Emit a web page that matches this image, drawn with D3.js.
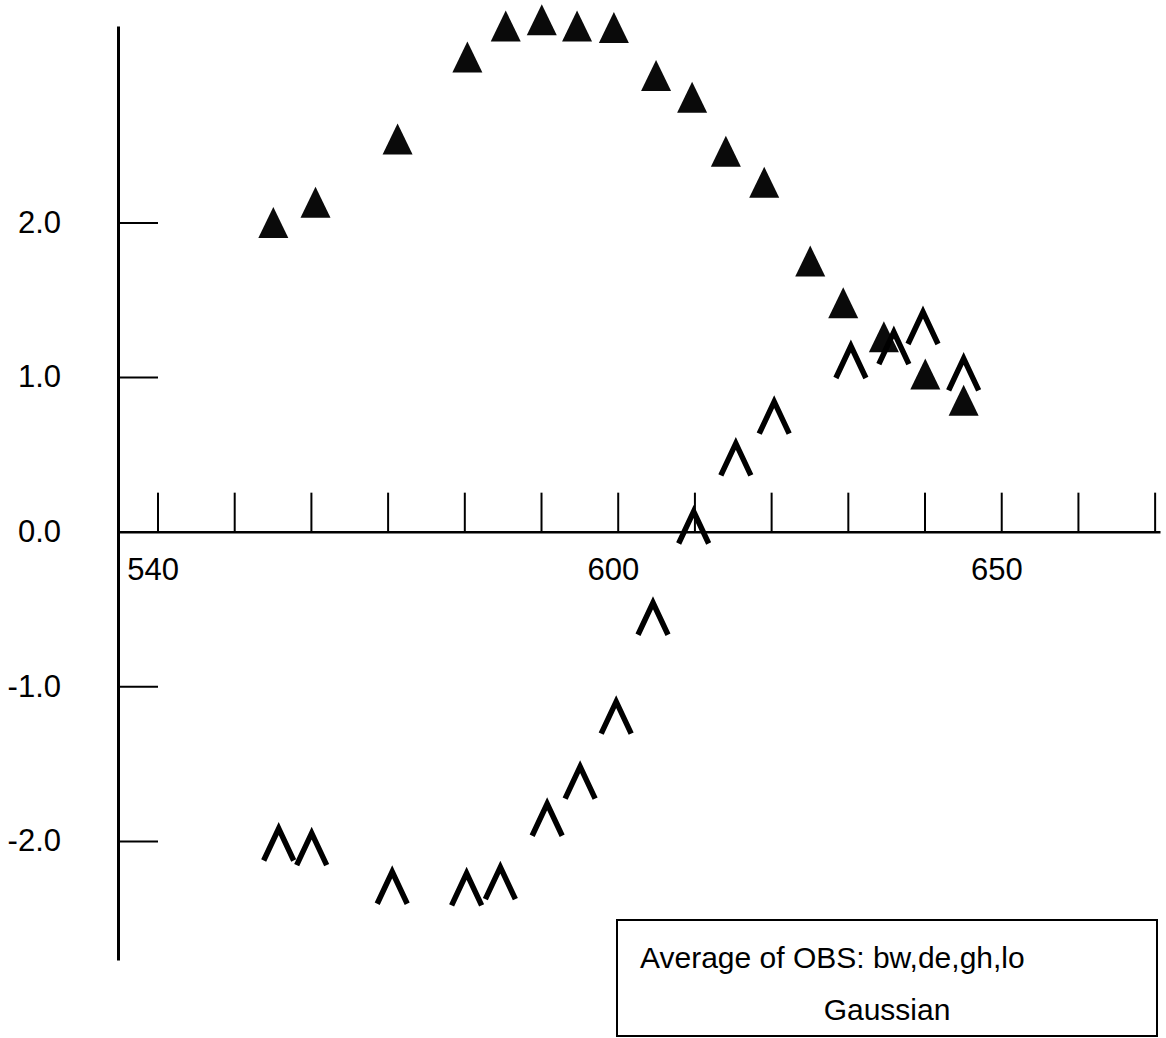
<!DOCTYPE html>
<html lang="en">
<head>
  <meta charset="utf-8">
  <title>Average of OBS - Gaussian</title>
  <style>
    body { margin: 0; background: #fff; }
    svg { display: block; font-family: "Liberation Sans", Arial, Helvetica, sans-serif; }
  </style>
</head>
<body>
  <script src="https://cdnjs.cloudflare.com/ajax/libs/d3/7.8.5/d3.min.js"></script>
  <script type="text/javascript">
  // filled triangles
  const triX = [555.1, 560.6, 571.3, 580.4, 585.4, 590.1, 594.7, 599.5, 605.0, 609.7, 614.1, 619.1, 625.1, 629.4, 634.7, 640.1, 645.1];
  const triY = [2.00, 2.13, 2.54, 3.07, 3.27, 3.31, 3.27, 3.26, 2.95, 2.81, 2.46, 2.26, 1.75, 1.48, 1.26, 1.02, 0.85];

  // open chevrons
  const chevX = [555.8, 560.1, 570.6, 580.3, 584.7, 590.8, 595.1, 599.8, 604.6, 609.9, 615.4, 620.4, 630.4, 636.0, 639.8, 645.1];
  const chevY = [-2.01, -2.04, -2.29, -2.30, -2.26, -1.85, -1.61, -1.19, -0.55, 0.04, 0.48, 0.75, 1.11, 1.20, 1.33, 1.03];

  const xTicks = [540, 550, 560, 570, 580, 590, 600, 610, 620, 630, 640, 650, 660, 670];
  const xTickLabels = [540, 600, 650];
  const yTicks = [2.0, 1.0, -1.0, -2.0];
  const yTickLabels = ["2.0", "1.0", "-1.0", "-2.0"];
  const legendLines = ["Average of OBS: bw,de,gh,lo", "Gaussian"];

  const width = 1166;
  const height = 1038;

  const svg = d3.select("body")
  .append("svg")
  .attr("width", width)
  .attr("height", height);

  const xScale = d3.scaleLinear()
  .domain([534.85, 670.7])
  .range([118, 1160]);

  const yScale = d3.scaleLinear()
  .domain([3.27, -2.77])
  .range([26, 960]);

  // x axis, ticks pointing up
  const xAxis = d3.axisBottom(xScale)
  .tickValues(xTicks)
  .tickSizeInner(-39)
  .tickSizeOuter(0)
  .tickPadding(26)
  .tickFormat((d) => xTickLabels.includes(d) ? String(d) : "");

  const gx = svg.append("g")
  .attr("transform", `translate(0, ${yScale(0)})`)
  .call(xAxis);

  gx.select(".domain").attr("stroke", "#000").attr("stroke-width", 2.5);
  gx.selectAll(".tick line").attr("stroke", "#000").attr("stroke-width", 2);
  gx.selectAll(".tick text")
  .attr("fill", "#000")
  .attr("font-size", 31)
  .attr("font-family", null)
  .attr("text-anchor", "end")
  .attr("x", 21);

  // y axis, ticks pointing right, labels on the left
  const yAxis = d3.axisLeft(yScale)
  .tickValues(yTicks)
  .tickSizeInner(-40)
  .tickSizeOuter(0)
  .tickPadding(57)
  .tickFormat((d, i) => yTickLabels[i]);

  const gy = svg.append("g")
  .attr("transform", `translate(${xScale.range()[0]}, 0)`)
  .call(yAxis);

  gy.select(".domain").attr("stroke", "#000").attr("stroke-width", 3);
  gy.selectAll(".tick line").attr("stroke", "#000").attr("stroke-width", 2);
  gy.selectAll(".tick text")
  .attr("fill", "#000")
  .attr("font-size", 31)
  .attr("font-family", null);

  // 0.0 label sits on the x axis
  svg.append("text")
  .attr("x", xScale.range()[0] - 57)
  .attr("y", yScale(0))
  .attr("dy", "0.32em")
  .attr("text-anchor", "end")
  .attr("font-size", 31)
  .text("0.0");

  const triangles = d3.range(triX.length).map((i) => ({x: triX[i], y: triY[i]}));
  const chevrons = d3.range(chevX.length).map((i) => ({x: chevX[i], y: chevY[i]}));

  svg.append("g")
  .selectAll("path")
  .data(triangles)
  .enter()
  .append("path")
  .attr("transform", (d) => `translate(${xScale(d.x)}, ${yScale(d.y)})`)
  .attr("d", "M0,-15.5 L15,15.5 L-15,15.5 Z")
  .attr("fill", "#0a0a0a");

  svg.append("g")
  .selectAll("path")
  .data(chevrons)
  .enter()
  .append("path")
  .attr("transform", (d) => `translate(${xScale(d.x)}, ${yScale(d.y)})`)
  .attr("d", "M-15,18 L0,-14 L15,18")
  .attr("fill", "none")
  .attr("stroke", "#000")
  .attr("stroke-width", 5.5)
  .attr("stroke-linejoin", "miter");

  // legend box
  const legend = svg.append("g");

  legend.append("rect")
  .attr("x", 617)
  .attr("y", 920)
  .attr("width", 540)
  .attr("height", 116)
  .attr("fill", "#fff")
  .attr("stroke", "#000")
  .attr("stroke-width", 2);

  legend.append("text")
  .attr("x", 640)
  .attr("y", 968)
  .attr("font-size", 30)
  .text(legendLines[0]);

  legend.append("text")
  .attr("x", 887)
  .attr("y", 1020)
  .attr("text-anchor", "middle")
  .attr("font-size", 30)
  .text(legendLines[1]);
  </script>
</body>
</html>
